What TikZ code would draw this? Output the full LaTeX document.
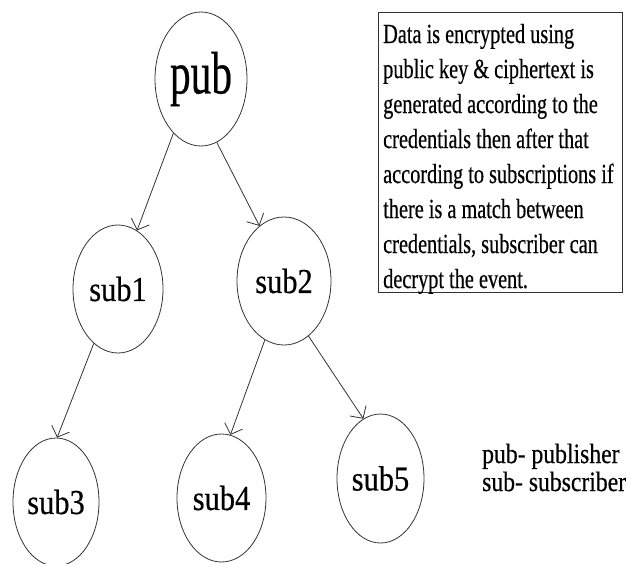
\documentclass[tikz,border=0pt]{standalone}
\usepackage{fontspec}
\setmainfont[FakeBold=0.5]{Liberation Serif}
\usetikzlibrary{arrows.meta,shapes.geometric}
\tikzset{
  nodeell/.style={draw=black!80, line width=0.8pt, ellipse, inner sep=0pt},
  conn/.style={draw=black!80, line width=0.8pt, -{Straight Barb[length=9pt,width=19pt,line width=0.8pt]}},
  subfont/.style={font=\fontsize{35}{40}\selectfont},
}
\newcommand{\sqz}[2]{\scalebox{#1}[1]{#2}}
\begin{document}
\begin{tikzpicture}[x=1pt,y=-1pt]
\useasboundingbox (0,0) rectangle (627,563);
% nodes
\node[nodeell, minimum width=92pt, minimum height=134pt, font=\fontsize{60}{66}\selectfont] (pub) at (201,79) {\sqz{0.69}{pub}};
\node[nodeell, minimum width=90pt, minimum height=128pt, subfont] (sub1) at (118,289) {\raisebox{-7pt}{\sqz{0.87}{sub1}}};
\node[nodeell, minimum width=94pt, minimum height=128pt, subfont] (sub2) at (284,281) {\raisebox{-14pt}{\sqz{0.87}{sub2}}};
\node[nodeell, minimum width=86pt, minimum height=128pt, subfont] (sub3) at (56,502) {\sqz{0.87}{sub3}};
\node[nodeell, minimum width=89pt, minimum height=128pt, subfont] (sub4) at (221.5,498) {\sqz{0.87}{sub4}};
\node[nodeell, minimum width=87pt, minimum height=129pt, subfont] (sub5) at (380.5,478.5) {\sqz{0.87}{sub5}};
% connectors
\draw[conn] (pub.-117) -- (sub1.72);
\draw[conn] (pub.-76) -- (sub2.114);
\draw[conn] (sub1.-114) -- (sub3.89);
\draw[conn] (sub2.-108) -- (sub4.82);
\draw[conn] (sub2.-66) -- (sub5.106);
% note box
\node[draw=black!80, line width=0.8pt, minimum width=244pt, minimum height=280pt, inner sep=0pt] (note) at (500,152) {};
\node[anchor=base west, inner sep=0pt, font=\fontsize{27.6}{35}\selectfont] (notetext) at (383,43) {\sqz{0.735}{\begin{tabular}[t]{@{}l@{}}
Data is encrypted using\\
public key \& ciphertext is\\
generated according to the\\
credentials then after that\\
according to subscriptions if\\
there is a match between\\
credentials, subscriber can\\
decrypt the event.
\end{tabular}}};
% legend
\node[anchor=base west, inner sep=0pt, font=\fontsize{28}{28}\selectfont] (legend) at (482,463) {\sqz{0.845}{\begin{tabular}[t]{@{}l@{}}
pub- publisher\\
sub- subscriber
\end{tabular}}};
\end{tikzpicture}
\end{document}
